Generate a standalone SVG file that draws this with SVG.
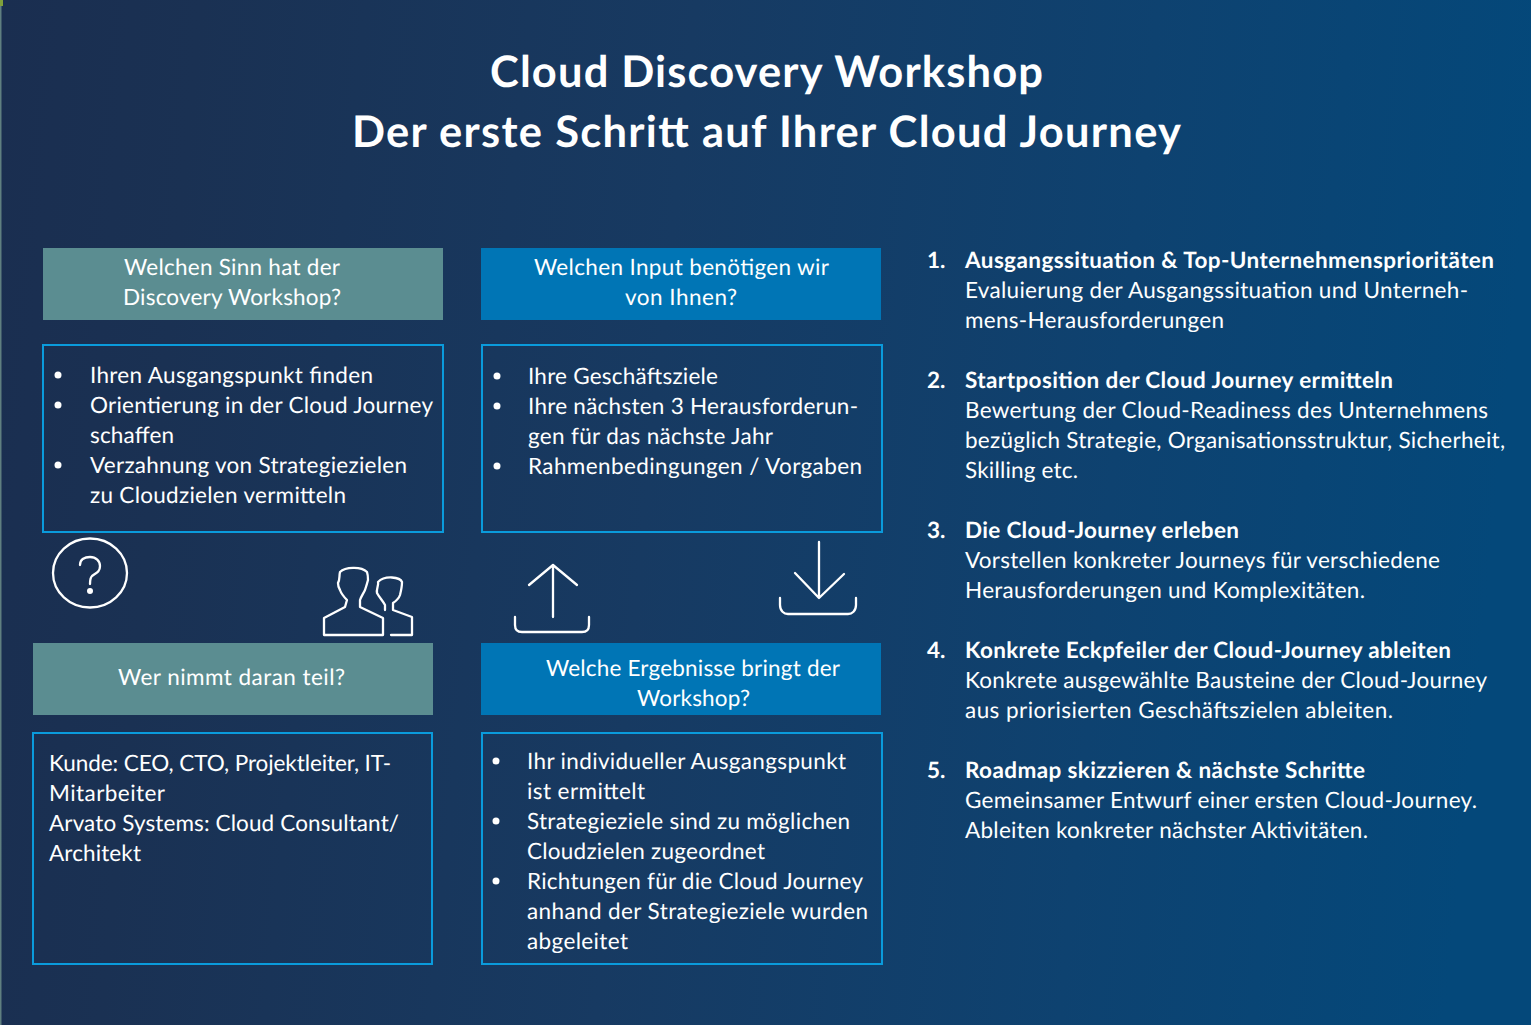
<svg xmlns="http://www.w3.org/2000/svg" width="1531" height="1025" viewBox="0 0 1531 1025">
<defs>
<linearGradient id="bg" x1="0" y1="0" x2="1531" y2="150" gradientUnits="userSpaceOnUse">
<stop offset="0" stop-color="#1a2e50"/><stop offset="0.13" stop-color="#1a3153"/><stop offset="0.45" stop-color="#173a62"/><stop offset="0.75" stop-color="#0e4270"/><stop offset="1" stop-color="#04487a"/>
</linearGradient>
</defs>
<style>
text{font-family:"Lato","Liberation Sans",sans-serif;fill:#fff;font-size:22.5px;text-rendering:geometricPrecision}
.t{font-size:43.5px;font-weight:700}
.b{font-weight:700}
.teal{fill:#5b8d91}
.blue{fill:#0075b5}
.body{fill:none;stroke:#0a9bdc;stroke-width:2}
.ic{fill:none;stroke:#fff;stroke-width:2.3;stroke-linecap:round;stroke-linejoin:round}
.d{fill:#fff}
</style>
<rect width="1531" height="1025" fill="url(#bg)"/>
<rect x="0" y="0" width="1.5" height="1025" fill="#5f7f80"/>
<rect x="0" y="0" width="3" height="6" fill="#7fa03a"/>
<g id="title">
<text class="t" x="490" y="87" textLength="553">Cloud Discovery Workshop</text>
<text class="t" x="352" y="147" textLength="829">Der erste Schritt auf Ihrer Cloud Journey</text>
</g>
<g id="node-sinn-header">
<rect class="teal" x="43" y="248" width="400" height="72"/>
<text x="124" y="275" textLength="216">Welchen Sinn hat der</text>
<text x="123" y="305" textLength="218">Discovery Workshop?</text>
</g>
<g id="node-sinn-body">
<rect class="body" x="43" y="345" width="400" height="187"/>
<circle class="d" cx="58" cy="375" r="3.5"/><circle class="d" cx="58" cy="405" r="3.5"/><circle class="d" cx="58" cy="465" r="3.5"/>
<text x="90" y="383" textLength="283">Ihren Ausgangspunkt finden</text>
<text x="90" y="413" textLength="343">Orientierung in der Cloud Journey</text>
<text x="90" y="443" textLength="84">schaffen</text>
<text x="90" y="473" textLength="317">Verzahnung von Strategiezielen</text>
<text x="90" y="503" textLength="256">zu Cloudzielen vermitteln</text>
</g>
<g id="node-input-header">
<rect class="blue" x="481" y="248" width="400" height="72"/>
<text x="534" y="275" textLength="295">Welchen Input benötigen wir</text>
<text x="625" y="305" textLength="112">von Ihnen?</text>
</g>
<g id="node-input-body">
<rect class="body" x="482" y="345" width="400" height="187"/>
<circle class="d" cx="497" cy="376" r="3.5"/><circle class="d" cx="497" cy="406" r="3.5"/><circle class="d" cx="497" cy="466" r="3.5"/>
<text x="528" y="384" textLength="190">Ihre Geschäftsziele</text>
<text x="528" y="414" textLength="330">Ihre nächsten 3 Herausforderun-</text>
<text x="528" y="444" textLength="245">gen für das nächste Jahr</text>
<text x="528" y="474" textLength="334">Rahmenbedingungen / Vorgaben</text>
</g>
<g id="icon-question">
<ellipse class="ic" cx="90" cy="573" rx="37" ry="34.5"/>
<path class="ic" d="M80 565C80 559 85 557 90 557C96 557 100 561 100 566C100 572 96 573 92 576C90 578 90 580 90 584"/>
<circle class="d" cx="90" cy="591" r="3"/>
</g>
<g id="icon-people">
<path class="ic" d="M324 635V618L345 607L347 600C343 596 341 593 340 590C338 587 338 585 338 583C340 580 339 576 340 572C345 567 361 566 367 572C368 575 368 578 368 580C367 584 366 587 365 590C363 594 361 597 360 600V607L383 618V635Z"/>
<path class="ic" d="M391 635H412V617L393 610V603C396 601 399 598 400 595C401 591 402 586 402 582C400 577 385 575 378 582C379 585 376 589 377 593C379 597 383 601 385 605V610"/>
</g>
<g id="icon-upload">
<path class="ic" d="M553 617V565M529 585L553 565L577 585M515 617V625C515 630 518 632 522 632H582C586 632 589 630 589 625V617"/>
</g>
<g id="icon-download">
<path class="ic" d="M819 542V598M795 573L819 598L844 574M780 598V605C780 611 784 614 788 614H848C852 614 856 611 856 605V598"/>
</g>
<g id="node-teil-header">
<rect class="teal" x="33" y="643" width="400" height="72"/>
<text x="118" y="685" textLength="227">Wer nimmt daran teil?</text>
</g>
<g id="node-teil-body">
<rect class="body" x="33" y="733" width="399" height="231"/>
<text x="49" y="771" textLength="342">Kunde: CEO, CTO, Projektleiter, IT-</text>
<text x="49" y="801" textLength="116">Mitarbeiter</text>
<text x="49" y="831" textLength="350">Arvato Systems: Cloud Consultant/</text>
<text x="49" y="861" textLength="92">Architekt</text>
</g>
<g id="node-ergebnis-header">
<rect class="blue" x="481" y="643" width="400" height="72"/>
<text x="546" y="676" textLength="294">Welche Ergebnisse bringt der</text>
<text x="637" y="706" textLength="113">Workshop?</text>
</g>
<g id="node-ergebnis-body">
<rect class="body" x="482" y="733" width="400" height="231"/>
<circle class="d" cx="496" cy="761" r="3.5"/><circle class="d" cx="496" cy="821" r="3.5"/><circle class="d" cx="496" cy="881" r="3.5"/>
<text x="527" y="769" textLength="319">Ihr individueller Ausgangspunkt</text>
<text x="527" y="799" textLength="118">ist ermittelt</text>
<text x="527" y="829" textLength="323">Strategieziele sind zu möglichen</text>
<text x="527" y="859" textLength="238">Cloudzielen zugeordnet</text>
<text x="527" y="889" textLength="336">Richtungen für die Cloud Journey</text>
<text x="527" y="919" textLength="341">anhand der Strategieziele wurden</text>
<text x="527" y="949" textLength="101">abgeleitet</text>
</g>
<g id="list">
<g id="item-1">
<text class="b" x="927" y="268">1.</text>
<text class="b" x="965" y="268" textLength="529">Ausgangssituation &amp; Top-Unternehmensprioritäten</text>
<text x="965" y="298" textLength="503">Evaluierung der Ausgangssituation und Unterneh-</text>
<text x="965" y="328" textLength="259">mens-Herausforderungen</text>
</g>
<g id="item-2">
<text class="b" x="927" y="388">2.</text>
<text class="b" x="965" y="388" textLength="428">Startposition der Cloud Journey ermitteln</text>
<text x="965" y="418" textLength="523">Bewertung der Cloud-Readiness des Unternehmens</text>
<text x="965" y="448" textLength="540">bezüglich Strategie, Organisationsstruktur, Sicherheit,</text>
<text x="965" y="478" textLength="113">Skilling etc.</text>
</g>
<g id="item-3">
<text class="b" x="927" y="538">3.</text>
<text class="b" x="965" y="538" textLength="274">Die Cloud-Journey erleben</text>
<text x="965" y="568" textLength="475">Vorstellen konkreter Journeys für verschiedene</text>
<text x="965" y="598" textLength="400">Herausforderungen und Komplexitäten.</text>
</g>
<g id="item-4">
<text class="b" x="927" y="658">4.</text>
<text class="b" x="965" y="658" textLength="486">Konkrete Eckpfeiler der Cloud-Journey ableiten</text>
<text x="965" y="688" textLength="522">Konkrete ausgewählte Bausteine der Cloud-Journey</text>
<text x="965" y="718" textLength="428">aus priorisierten Geschäftszielen ableiten.</text>
</g>
<g id="item-5">
<text class="b" x="927" y="778">5.</text>
<text class="b" x="965" y="778" textLength="400">Roadmap skizzieren &amp; nächste Schritte</text>
<text x="965" y="808" textLength="512">Gemeinsamer Entwurf einer ersten Cloud-Journey.</text>
<text x="965" y="838" textLength="403">Ableiten konkreter nächster Aktivitäten.</text>
</g>
</g>
</svg>
